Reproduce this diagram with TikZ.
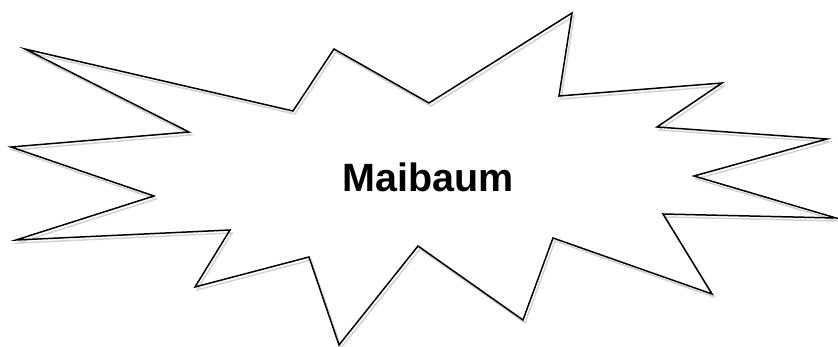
\documentclass[tikz,border=0pt]{standalone}
\usepackage{fontspec}
\setmainfont{Liberation Sans}
\usetikzlibrary{positioning}

\begin{document}
\begin{tikzpicture}[x=1pt, y=-1pt]
    \useasboundingbox (0,0) rectangle (838,347);
    % Define the points of the star outline
    \coordinate (A) at (25,49);
    \coordinate (B) at (293,111);
    \coordinate (C) at (334,49);
    \coordinate (D) at (429,103);
    \coordinate (E) at (572,13);
    \coordinate (F) at (559,96);
    \coordinate (G) at (722,83);
    \coordinate (H) at (657,127);
    \coordinate (I) at (827,139);
    \coordinate (J) at (694,176);
    \coordinate (K) at (836,218);
    \coordinate (L) at (663,214);
    \coordinate (M) at (712,294);
    \coordinate (N) at (553,238);
    \coordinate (O) at (523,320);
    \coordinate (P) at (418,246);
    \coordinate (Q) at (339,345);
    \coordinate (R) at (309,257);
    \coordinate (S) at (195,287);
    \coordinate (T) at (230,230);
    \coordinate (U) at (16,240);
    \coordinate (V) at (154,196);
    \coordinate (W) at (11,147);
    \coordinate (X) at (189,132);

    % Draw the shadow of the outline
    \draw[gray!35, line width=1.5pt, line join=miter, transform canvas={xshift=2pt, yshift=-3pt}]
        (A) -- (B) -- (C) -- (D) -- (E) -- (F) -- (G) -- (H) -- (I) -- (J) -- (K) -- (L)
        -- (M) -- (N) -- (O) -- (P) -- (Q) -- (R) -- (S) -- (T) -- (U) -- (V) -- (W) -- (X) -- cycle;

    % Draw the outline
    \draw[black, line width=1.5pt, line join=miter]
        (A) -- (B) -- (C) -- (D) -- (E) -- (F) -- (G) -- (H) -- (I) -- (J) -- (K) -- (L)
        -- (M) -- (N) -- (O) -- (P) -- (Q) -- (R) -- (S) -- (T) -- (U) -- (V) -- (W) -- (X) -- cycle;

    \node[anchor=base, inner sep=0pt, font=\fontsize{39.5}{40}\selectfont\bfseries] (title) at (428.5,192) {Maibaum};
\end{tikzpicture}
\end{document}
